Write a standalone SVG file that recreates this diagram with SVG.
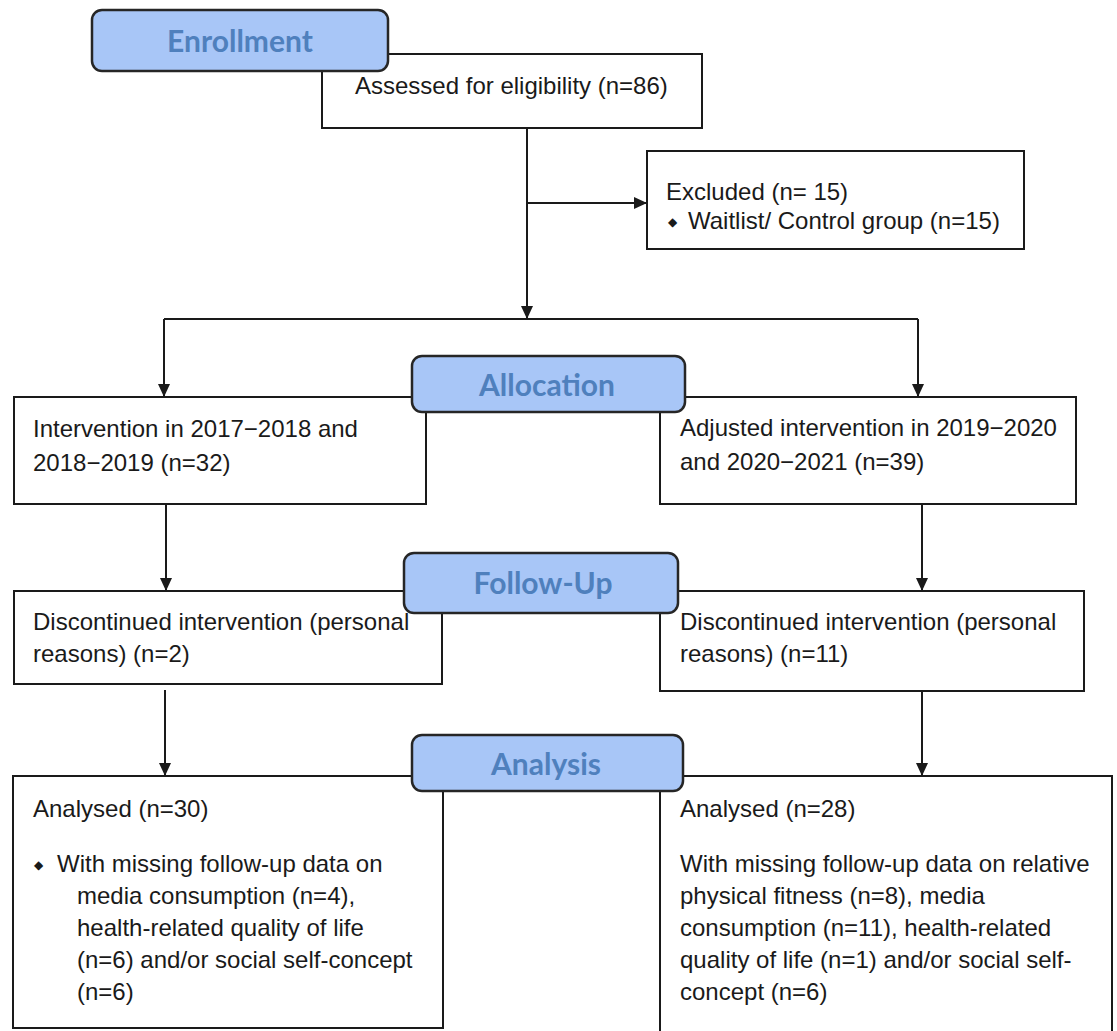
<svg xmlns="http://www.w3.org/2000/svg" width="1117" height="1031" viewBox="0 0 1117 1031">
<style>
  .box { fill: #ffffff; stroke: #1a1a1a; stroke-width: 2; }
  .lab { fill: #a8c6f7; stroke: #262626; stroke-width: 2.5; }
  .t { font-family: "Liberation Sans", Arial, sans-serif; font-size: 24px; fill: #1a1a1a; }
  .lt { font-family: Lato, "Open Sans", sans-serif; font-weight: 700; font-size: 30px; fill: #4f80bd; text-anchor: middle; }
  .bul { font-family: "DejaVu Sans", sans-serif; font-size: 12px; fill: #1a1a1a; }
  .c { stroke: #1a1a1a; stroke-width: 2; fill: none; }
</style>
<defs>
  <marker id="ah" markerUnits="userSpaceOnUse" markerWidth="13" markerHeight="12" refX="13" refY="6" orient="auto">
    <path d="M0,0 L13,6 L0,12 z" fill="#1a1a1a"/>
  </marker>
</defs>

<g id="connectors">
  <line class="c" x1="527" y1="128" x2="527" y2="319" marker-end="url(#ah)"/>
  <line class="c" x1="527" y1="203" x2="647" y2="203" marker-end="url(#ah)"/>
  <line class="c" x1="164" y1="319" x2="918" y2="319"/>
  <line class="c" x1="164" y1="319" x2="164" y2="397" marker-end="url(#ah)"/>
  <line class="c" x1="918" y1="319" x2="918" y2="397" marker-end="url(#ah)"/>
  <line class="c" x1="166" y1="504" x2="166" y2="591" marker-end="url(#ah)"/>
  <line class="c" x1="922" y1="504" x2="922" y2="591" marker-end="url(#ah)"/>
  <line class="c" x1="165" y1="690" x2="165" y2="776" marker-end="url(#ah)"/>
  <line class="c" x1="922" y1="691" x2="922" y2="776" marker-end="url(#ah)"/>
</g>

<g id="assessed">
  <rect class="box" x="322" y="54" width="380" height="74"/>
  <text class="t" x="355" y="94">Assessed for eligibility (n=86)</text>
</g>

<g id="excluded">
  <rect class="box" x="647" y="151" width="377" height="98"/>
  <text class="t" x="666" y="200">Excluded (n= 15)</text>
  <text class="bul" x="668" y="226">◆</text>
  <text class="t" x="688" y="229">Waitlist/ Control group (n=15)</text>
</g>

<g id="intervention">
  <rect class="box" x="14" y="397" width="412" height="107"/>
  <text class="t" x="33" y="437">Intervention in 2017−2018 and</text>
  <text class="t" x="33" y="471">2018−2019 (n=32)</text>
</g>

<g id="adjusted">
  <rect class="box" x="660" y="397" width="416" height="107"/>
  <text class="t" x="680" y="436">Adjusted intervention in 2019−2020</text>
  <text class="t" x="680" y="470">and 2020−2021 (n=39)</text>
</g>

<g id="discontinued-left">
  <rect class="box" x="14" y="591" width="428" height="93"/>
  <text class="t" x="33" y="630">Discontinued intervention (personal</text>
  <text class="t" x="33" y="662">reasons) (n=2)</text>
</g>

<g id="discontinued-right">
  <rect class="box" x="660" y="591" width="424" height="100"/>
  <text class="t" x="680" y="630">Discontinued intervention (personal</text>
  <text class="t" x="680" y="662">reasons) (n=11)</text>
</g>

<g id="analysed-left">
  <rect class="box" x="13" y="776" width="430" height="252"/>
  <text class="t" x="33" y="817">Analysed (n=30)</text>
  <text class="bul" x="34" y="869">◆</text>
  <text class="t" x="57" y="872">With missing follow-up data on</text>
  <text class="t" x="77" y="904">media consumption (n=4),</text>
  <text class="t" x="77" y="936">health-related quality of life</text>
  <text class="t" x="77" y="968">(n=6) and/or social self-concept</text>
  <text class="t" x="77" y="1000">(n=6)</text>
</g>

<g id="analysed-right">
  <rect class="box" x="660" y="776" width="452" height="265"/>
  <text class="t" x="680" y="817">Analysed (n=28)</text>
  <text class="t" x="680" y="872">With missing follow-up data on relative</text>
  <text class="t" x="680" y="904">physical fitness (n=8), media</text>
  <text class="t" x="680" y="936">consumption (n=11), health-related</text>
  <text class="t" x="680" y="968">quality of life (n=1) and/or social self-</text>
  <text class="t" x="680" y="1000">concept (n=6)</text>
</g>

<g id="enrollment">
  <rect class="lab" x="92" y="10" width="296" height="61" rx="10"/>
  <text class="lt" x="240" y="52">Enrollment</text>
</g>

<g id="allocation">
  <rect class="lab" x="412" y="356" width="273" height="56" rx="10"/>
  <text class="lt" x="547" y="396">Allocation</text>
</g>

<g id="follow-up">
  <rect class="lab" x="404" y="553" width="274" height="60" rx="10"/>
  <text class="lt" x="543" y="594">Follow-Up</text>
</g>

<g id="analysis">
  <rect class="lab" x="412" y="735" width="271" height="56" rx="10"/>
  <text class="lt" x="546" y="775">Analysis</text>
</g>
</svg>
